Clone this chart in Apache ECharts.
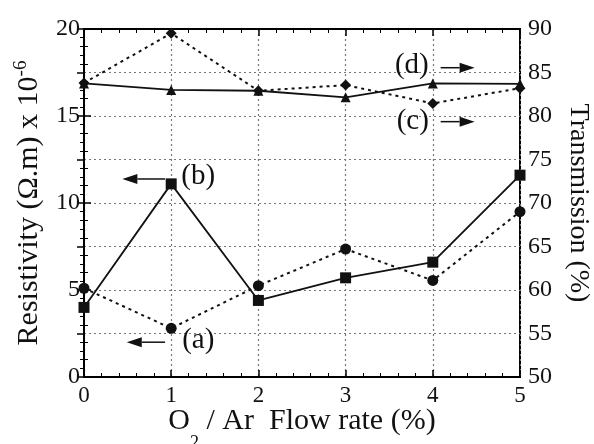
<!DOCTYPE html>
<html><head><meta charset="utf-8">
<script src="https://cdn.jsdelivr.net/npm/echarts@6/dist/echarts.min.js"></script>
<style>html,body{margin:0;padding:0;background:#fff}#c{width:594px;height:444px}</style>
</head><body><div id="c"></div>
<script>
const flowRate = [0, 1, 2, 3, 4, 5];
const resistivityA = [5.1, 2.8, 5.25, 7.35, 5.55, 9.5];
const resistivityB = [4.0, 11.1, 4.4, 5.7, 6.6, 11.6];
const transmissionC = [83.8, 89.5, 82.9, 83.55, 81.45, 83.2];
const transmissionD = [83.75, 83.0, 82.9, 82.15, 83.75, 83.7];
const xTicks = [0, 1, 2, 3, 4, 5];
const leftTicks = [0, 5, 10, 15, 20];
const rightTicks = [50, 55, 60, 65, 70, 75, 80, 85, 90];
const notes = [
  {text: '(a)', axis: 0, x: 1.31, y: 2.13, from: 0.93, to: 0.49, ay: 2.0},
  {text: '(b)', axis: 0, x: 1.31, y: 11.55, from: 0.93, to: 0.44, ay: 11.38},
  {text: '(c)', axis: 1, x: 3.77, y: 79.35, from: 4.09, to: 4.48, ay: 79.35},
  {text: '(d)', axis: 1, x: 3.76, y: 85.86, from: 4.09, to: 4.48, ay: 85.55}
];

const FONT = '"Liberation Serif", "Times New Roman", serif';
const INK = '#111';
const pairs = (ys) => flowRate.map((x, i) => [x, ys[i]]);

const chart = echarts.init(document.getElementById('c'));
const axisCommon = {
  axisLine: {show: true, lineStyle: {color: '#000', width: 2}},
  axisTick: {show: true, inside: true, length: 7, lineStyle: {color: '#000', width: 1.5}},
  minorTick: {show: true, splitNumber: 5, length: 4, lineStyle: {color: '#000', width: 1}}
};
const gridDot = {show: true, lineStyle: {color: '#777', type: [2, 3], width: 1.2}};

const option = {
  backgroundColor: '#fff',
  animation: false,
  grid: {left: 84, right: 74, top: 29, bottom: 67, containLabel: false, outerBoundsMode: 'none',
         show: true, borderColor: '#000', borderWidth: 2, backgroundColor: 'transparent'},
  xAxis: [
    Object.assign({}, axisCommon, {
      type: 'value', position: 'bottom',
      min: xTicks[0], max: xTicks[xTicks.length - 1], interval: 1,
      axisLabel: {fontFamily: FONT, fontSize: 23, color: INK, margin: 7},
      splitLine: gridDot,
      name: '{m|O}{s|2}{m| / Ar  Flow rate (%)}',
      nameLocation: 'middle', nameGap: 29, nameMoveOverlap: false,
      nameTextStyle: {rich: {
        m: {fontFamily: FONT, fontSize: 30, color: INK, lineHeight: 30, verticalAlign: 'top'},
        s: {fontFamily: FONT, fontSize: 18, color: INK, lineHeight: 46, verticalAlign: 'bottom'}
      }}
    }),
    Object.assign({}, axisCommon, {
      type: 'value', position: 'top',
      min: xTicks[0], max: xTicks[xTicks.length - 1], interval: 1,
      axisLabel: {show: false}, splitLine: {show: false}
    })
  ],
  yAxis: [
    Object.assign({}, axisCommon, {
      type: 'value', position: 'left',
      min: leftTicks[0], max: leftTicks[leftTicks.length - 1], interval: 5,
      axisLabel: {fontFamily: FONT, fontSize: 24, color: INK, margin: 4},
      splitLine: {show: false},
      name: '{m|Resistivity (Ω.m) x 10}{p|-6}',
      nameLocation: 'middle', nameGap: 40,
      nameTextStyle: {rich: {
        m: {fontFamily: FONT, fontSize: 30, color: INK, lineHeight: 32, verticalAlign: 'bottom'},
        p: {fontFamily: FONT, fontSize: 19, color: INK, lineHeight: 12, verticalAlign: 'top'}
      }}
    }),
    Object.assign({}, axisCommon, {
      type: 'value', position: 'right',
      min: rightTicks[0], max: rightTicks[rightTicks.length - 1], interval: 5,
      axisLabel: {fontFamily: FONT, fontSize: 24, color: INK, margin: 8},
      splitLine: gridDot,
      name: 'Transmission (%)',
      nameLocation: 'middle', nameGap: 44, nameRotate: -90,
      nameTextStyle: {fontFamily: FONT, fontSize: 28, color: INK}
    })
  ],
  series: [
    {name: '(a)', type: 'line', xAxisIndex: 0, yAxisIndex: 0, data: pairs(resistivityA),
     symbol: 'circle', symbolSize: 11, clip: false,
     lineStyle: {color: '#111', width: 2, type: [3, 4]}, itemStyle: {color: '#111'}},
    {name: '(b)', type: 'line', xAxisIndex: 0, yAxisIndex: 0, data: pairs(resistivityB),
     symbol: 'rect', symbolSize: 11, clip: false,
     lineStyle: {color: '#111', width: 1.8}, itemStyle: {color: '#111'}},
    {name: '(c)', type: 'line', xAxisIndex: 0, yAxisIndex: 1, data: pairs(transmissionC),
     symbol: 'diamond', symbolSize: 11, clip: false,
     lineStyle: {color: '#111', width: 2, type: [3, 4]}, itemStyle: {color: '#111'}},
    {name: '(d)', type: 'line', xAxisIndex: 0, yAxisIndex: 1, data: pairs(transmissionD),
     symbol: 'triangle', symbolSize: 10, clip: false,
     lineStyle: {color: '#111', width: 1.8}, itemStyle: {color: '#111'}}
  ]
};
chart.setOption(option);

const g = [];
notes.forEach(n => {
  const finder = {xAxisIndex: 0, yAxisIndex: n.axis};
  const t = chart.convertToPixel(finder, [n.x, n.y]);
  const p0 = chart.convertToPixel(finder, [n.from, n.ay]);
  const p1 = chart.convertToPixel(finder, [n.to, n.ay]);
  const dir = Math.sign(p1[0] - p0[0]);
  const head = 15;
  g.push({type: 'text', x: t[0], y: t[1], z: 100,
    style: {text: n.text, font: '29px ' + FONT, fill: INK, textAlign: 'center', textVerticalAlign: 'middle', align: 'center', verticalAlign: 'middle'}});
  g.push({type: 'line', z: 100, shape: {x1: p0[0], y1: p0[1], x2: p1[0] - dir * head, y2: p1[1]},
    style: {stroke: INK, lineWidth: 1.5}});
  g.push({type: 'polygon', z: 100, shape: {points: [[p1[0], p1[1]], [p1[0] - dir * head, p1[1] - 5], [p1[0] - dir * head, p1[1] + 5]]},
    style: {fill: INK}});
});
chart.setOption({graphic: g});
</script></body></html>
